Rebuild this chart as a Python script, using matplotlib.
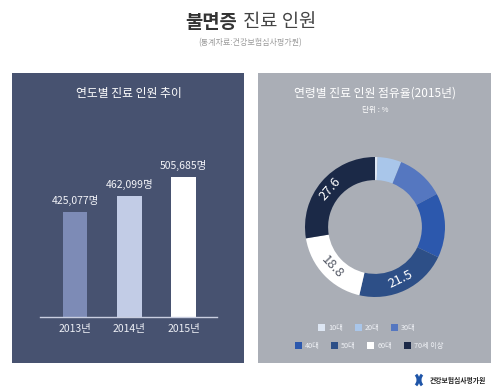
import matplotlib
matplotlib.use("Agg")
import matplotlib.pyplot as plt
from matplotlib.patches import Rectangle, Patch, Arc
import numpy as np

plt.rcParams['font.family'] = ['Noto Sans CJK KR', 'DejaVu Sans']

# ---- data ----
years = ['2013년', '2014년', '2015년']
patients = [425077, 462099, 505685]
bar_colors = ['#7d8bb6', '#c2cce6', '#ffffff']

age_groups = ['10대', '20대', '30대', '40대', '50대', '60대', '70세 이상']
age_share = [0.6, 5.5, 11.1, 14.9, 21.5, 18.8, 27.6]
age_colors = ['#dde6f3', '#a9c6ea', '#5577c0', '#2c58ad', '#2d4f87', '#ffffff', '#1b2947']
shown_labels = {'50대': 'white', '60대': '#555a66', '70세 이상': 'white'}

W, H = 500, 389
fig = plt.figure(figsize=(W / 100, H / 100), dpi=100)
fig.patch.set_facecolor('white')

def fx(x):
    return x / W

def fy(y):
    return 1 - y / H

def rect(x0, y0, x1, y1):
    return [fx(x0), fy(y1), fx(x1 - x0), (y1 - y0) / H]

# panels
fig.add_artist(Rectangle((fx(12), fy(363)), fx(244 - 12), (363 - 73) / H,
                         transform=fig.transFigure, facecolor='#475270', edgecolor='none', zorder=0))
fig.add_artist(Rectangle((fx(258), fy(363)), fx(491 - 258), (363 - 73) / H,
                         transform=fig.transFigure, facecolor='#aaaeb6', edgecolor='none', zorder=0))

# main title
fig.text(fx(237), fy(22), '불면증', fontsize=13.5, fontweight='bold', color='#333333', ha='right', va='center')
fig.text(fx(243), fy(22), '진료 인원', fontsize=13.5, color='#444444', ha='left', va='center')
fig.text(fx(250), fy(43), '(통계자료:건강보험심사평가원)', fontsize=5.8, color='#9a9a9a', ha='center', va='center')

# ---- bar chart ----
fig.text(fx(129), fy(93), '연도별 진료 인원 추이', fontsize=8.5, color='white', ha='center', va='center')
ax = fig.add_axes(rect(40, 150, 217, 317))
ax.set_facecolor('none')
x = np.arange(len(years))
bars = ax.bar(x, patients, width=0.46, color=bar_colors, zorder=2)
ax.set_xlim(-0.645, 2.617)
ax.set_ylim(183000, 183000 + 167 * 2303)
for s in ['top', 'left', 'right']:
    ax.spines[s].set_visible(False)
ax.spines['bottom'].set_color('#c9cee0')
ax.spines['bottom'].set_linewidth(1.0)
ax.set_yticks([])
ax.set_xticks(x)
ax.set_xticklabels(years, fontsize=7.5, color='#eef0f6')
ax.tick_params(axis='x', length=0, pad=5)
for xi, v in zip(x, patients):
    ax.annotate(f'{v:,}명', (xi, v), xytext=(0, 4), textcoords='offset points',
                ha='center', va='bottom', fontsize=7.5, color='#f2f3f8')

# ---- donut ----
fig.text(fx(375), fy(93), '연령별 진료 인원 점유율(2015년)', fontsize=8.5, color='white', ha='center', va='center')
fig.text(fx(375), fy(110), '단위 : %', fontsize=5.5, color='white', ha='center', va='center')
ax2 = fig.add_axes(rect(305, 157, 445, 297))
wedges, _ = ax2.pie(age_share, colors=age_colors, startangle=90, counterclock=False,
                    radius=1.0, wedgeprops=dict(width=0.33, edgecolor='none'))
ax2.set_xlim(-1, 1)
ax2.set_ylim(-1, 1)
ax2.set_aspect('equal')
ax2.axis('off')
for w, name, val in zip(wedges, age_groups, age_share):
    if name in shown_labels:
        ang = (w.theta1 + w.theta2) / 2
        r = 0.835
        xt, yt = r * np.cos(np.radians(ang)), r * np.sin(np.radians(ang))
        rot = (ang + 90) % 180
        if rot > 90:
            rot -= 180
        ax2.text(xt, yt, f'{val}', rotation=rot, rotation_mode='anchor',
                 ha='center', va='center', fontsize=9.5, color=shown_labels[name])

# legend
handles = [Patch(facecolor=c, edgecolor='none') for c in age_colors]
leg_kw = dict(loc='center', frameon=False, fontsize=5.2, handlelength=0.95, handleheight=0.95,
              handletextpad=0.45, columnspacing=1.6, labelcolor='#f0f2f6', borderpad=0)
fig.legend(handles[:3], age_groups[:3], bbox_to_anchor=(fx(367), fy(328)), ncol=3, **leg_kw)
fig.legend(handles[3:], age_groups[3:], bbox_to_anchor=(fx(369), fy(346)), ncol=4, **leg_kw)

# logo
fig.add_artist(Arc((fx(412), fy(380)), 12 / W, 14 / H, theta1=-60, theta2=60,
                   transform=fig.transFigure, color='#1f55a8', lw=2.2))
fig.add_artist(Arc((fx(426), fy(380)), 12 / W, 14 / H, theta1=120, theta2=240,
                   transform=fig.transFigure, color='#1f55a8', lw=2.2))
fig.text(fx(430), fy(380), '건강보험심사평가원', fontsize=4.9, fontweight='bold',
         color='#222222', ha='left', va='center')

fig.savefig('out.png', dpi=100, facecolor='white')
